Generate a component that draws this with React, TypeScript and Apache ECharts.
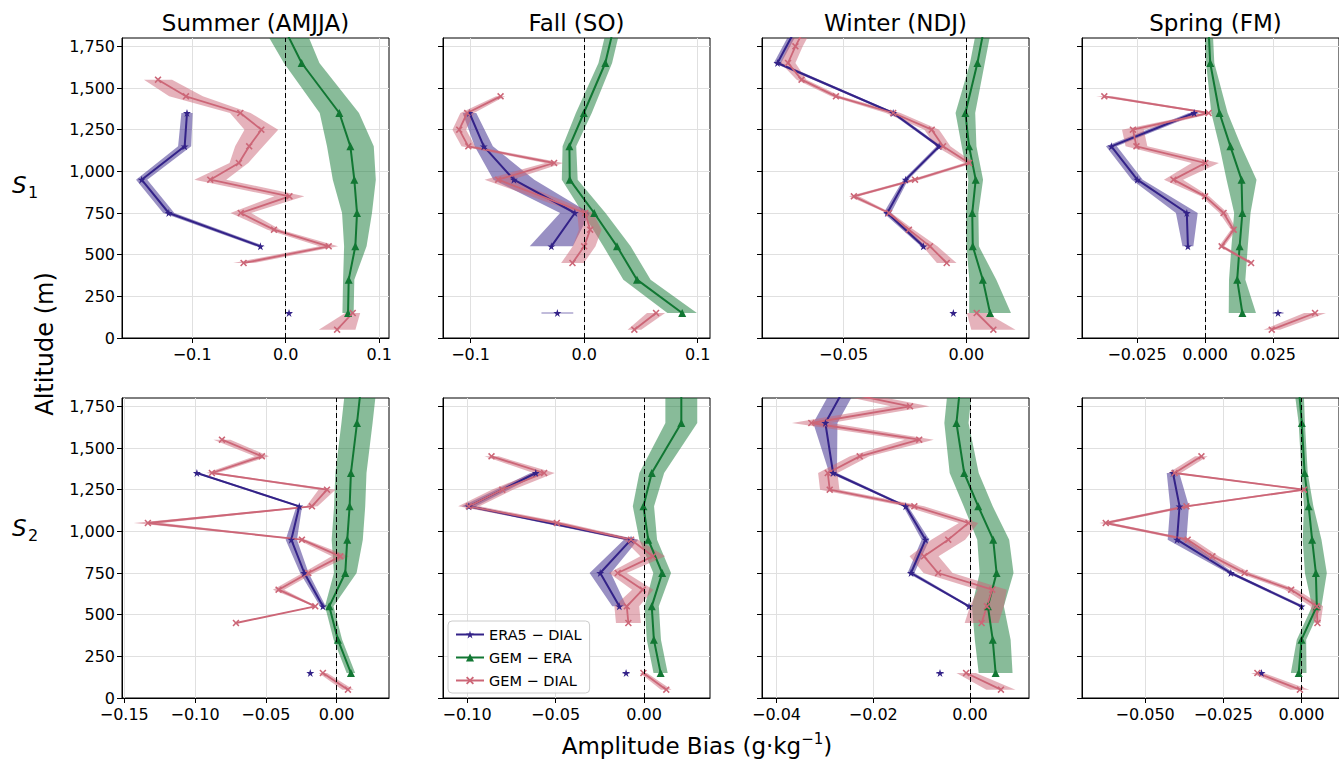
import React, { useEffect, useRef } from 'react';
import * as echarts from 'echarts';

type Row = [number, number | null, number]; // altitude (m), bias value, half-width of shaded band

const FONT = 'DejaVu Sans';
const C_ERA5 = '#332288';
const C_GEM_ERA = '#117733';
const C_GEM_DIAL = '#CC6677';
const NAMES = ['ERA5 \u2212 DIAL', 'GEM \u2212 ERA', 'GEM \u2212 DIAL'];

const ALT_TICKS = [0, 250, 500, 750, 1000, 1250, 1500, 1750];
const SEASONS = ['Summer (AMJJA)', 'Fall (SO)', 'Winter (NDJ)', 'Spring (FM)'];

// ---------- S1 ----------
const summerS1Era5: Row[] = [[150, 0.0036, 0.003], [350, null, 0], [550, -0.027, 0.005], [750, -0.125, 0.006], [950, -0.154, 0.006], [1150, -0.108, 0.007], [1350, -0.1055, 0.006]];
const summerS1GemEra: Row[] = [[150, 0.0667, 0.006], [350, 0.0674, 0.006], [550, 0.0745, 0.012], [750, 0.0763, 0.016], [950, 0.0734, 0.023], [1150, 0.0692, 0.025], [1350, 0.0574, 0.021], [1650, 0.0171, 0.019], [1850, -0.0007, 0.022]];
const summerS1GemDial: Row[] = [[50, 0.055, 0.0196], [150, 0.0717, 0.008], [250, null, 0], [450, -0.045, 0.011], [550, 0.046, 0.01], [650, -0.0125, 0.007], [750, -0.048, 0.011], [850, 0.004, 0.016], [950, -0.0806, 0.017], [1050, -0.05, 0.01], [1150, -0.039, 0.015], [1250, -0.026, 0.018], [1350, -0.0485, 0.011], [1450, -0.1066, 0.018], [1550, -0.1365, 0.015]];

const fallS1Era5: Row[] = [[150, -0.0236, 0.014], [350, null, 0], [550, -0.0289, 0.019], [750, -0.0082, 0.013], [950, -0.0619, 0.018], [1150, -0.0884, 0.008], [1350, -0.101, 0.006]];
const fallS1GemEra: Row[] = [[150, 0.0863, 0.013], [350, 0.0465, 0.012], [550, 0.0289, 0.012], [750, 0.0088, 0.01], [950, -0.0127, 0.007], [1150, -0.013, 0.006], [1350, -0.0003, 0.007], [1650, 0.0186, 0.006], [1850, 0.0256, 0.006]];
const fallS1GemDial: Row[] = [[50, 0.0442, 0.006], [150, 0.0633, 0.008], [250, null, 0], [450, -0.0103, 0.01], [550, 0, 0.01], [650, 0.0053, 0.01], [750, 0.0009, 0.007], [950, -0.0757, 0.012], [1050, -0.0265, 0.008], [1150, -0.102, 0.006], [1250, -0.11, 0.006], [1350, -0.103, 0.006], [1450, -0.0736, 0.004]];

const winterS1Era5: Row[] = [[150, -0.0053, 0.001], [350, null, 0], [550, -0.0175, 0.001], [750, -0.0322, 0.0015], [950, -0.0247, 0.001], [1150, -0.0111, 0.001], [1350, -0.0298, 0.001], [1650, -0.0769, 0.0015], [1850, -0.0696, 0.0015]];
const winterS1GemEra: Row[] = [[150, 0.00965, 0.0085], [350, 0.0067, 0.0055], [550, 0.0026, 0.0025], [750, 0.0024, 0.0025], [950, 0.0038, 0.003], [1150, 0.0011, 0.003], [1350, -0.0004, 0.004], [1650, 0.0045, 0.003], [1850, 0.0071, 0.003]];
const winterS1GemDial: Row[] = [[50, 0.011, 0.009], [150, 0.0042, 0.004], [250, null, 0], [450, -0.008, 0.004], [550, -0.0148, 0.003], [650, -0.0234, 0.002], [750, -0.0315, 0.001], [850, -0.0458, 0.002], [950, -0.0209, 0.002], [1050, 0.0011, 0.002], [1150, -0.0095, 0.003], [1250, -0.0141, 0.003], [1350, -0.0298, 0.003], [1450, -0.0531, 0.002], [1550, -0.0671, 0.002], [1650, -0.0726, 0.003], [1750, -0.0696, 0.003], [1850, -0.066, 0.003]];

const springS1Era5: Row[] = [[150, 0.0268, 0.002], [350, null, 0], [550, -0.0063, 0.002], [750, -0.0067, 0.004], [950, -0.0249, 0.002], [1150, -0.0344, 0.002], [1350, -0.004, 0.002]];
const springS1GemEra: Row[] = [[150, 0.0137, 0.005], [350, 0.0118, 0.003], [550, 0.0127, 0.003], [750, 0.0137, 0.003], [950, 0.0134, 0.0055], [1150, 0.0093, 0.004], [1350, 0.0053, 0.003], [1650, 0.0019, 0.0015], [1850, 0.0013, 0.0015]];
const springS1GemDial: Row[] = [[50, 0.0245, 0.003], [150, 0.0404, 0.004], [250, null, 0], [450, 0.0169, 0.001], [550, 0.0061, 0.001], [650, 0.0105, 0.001], [750, 0.0068, 0.0015], [850, 0, 0.0015], [950, -0.0116, 0.0035], [1050, 0.0001, 0.005], [1150, -0.0252, 0.004], [1250, -0.0265, 0.004], [1350, 0.0013, 0.002], [1450, -0.037, 0.003]];

// ---------- S2 ----------
const summerS2Era5: Row[] = [[150, -0.0186, 0.001], [350, null, 0], [550, -0.0097, 0.002], [750, -0.0228, 0.003], [950, -0.032, 0.004], [1150, -0.0264, 0.002], [1350, -0.0987, 0.002]];
const summerS2GemEra: Row[] = [[150, 0.0101, 0.003], [350, 0.0009, 0.003], [550, -0.0052, 0.003], [750, 0.0061, 0.008], [950, 0.0075, 0.011], [1150, 0.0092, 0.011], [1350, 0.0101, 0.011], [1650, 0.0144, 0.011], [1850, 0.017, 0.011]];
const summerS2GemDial: Row[] = [[50, 0.008, 0.004], [150, -0.0097, 0.003], [250, null, 0], [450, -0.0711, 0.001], [550, -0.0151, 0.001], [650, -0.041, 0.004], [750, -0.02, 0.004], [850, 0.0026, 0.006], [950, -0.0245, 0.003], [1050, -0.1333, 0.01], [1150, -0.0174, 0.004], [1250, -0.0068, 0.006], [1350, -0.0881, 0.004], [1450, -0.0528, 0.005], [1550, -0.081, 0.006]];

const fallS2Era5: Row[] = [[150, -0.0102, 0.002], [350, null, 0], [550, -0.014, 0.004], [750, -0.0248, 0.006], [950, -0.0074, 0.004], [1150, -0.099, 0.004], [1350, -0.0612, 0.003]];
const fallS2GemEra: Row[] = [[150, 0.0093, 0.004], [350, 0.0055, 0.004], [550, 0.0043, 0.004], [750, 0.0102, 0.005], [950, 0.0023, 0.005], [1150, -0.0004, 0.006], [1350, 0.0043, 0.007], [1650, 0.021, 0.009], [1850, 0.021, 0.009]];
const fallS2GemDial: Row[] = [[50, 0.0125, 0.003], [150, -0.0004, 0.002], [250, null, 0], [450, -0.0089, 0.007], [550, -0.0098, 0.007], [650, -0.0008, 0.006], [750, -0.0149, 0.005], [850, 0.0049, 0.007], [950, -0.0074, 0.004], [1050, -0.0493, 0.005], [1150, -0.099, 0.006], [1250, -0.0801, 0.006], [1350, -0.0565, 0.006], [1450, -0.0862, 0.004]];

const winterS2Era5: Row[] = [[150, -0.0062, 0.0008], [350, null, 0], [550, -0.0002, 0.0004], [750, -0.0122, 0.0007], [950, -0.0092, 0.0008], [1150, -0.0133, 0.0005], [1350, -0.0283, 0.0008], [1650, -0.0299, 0.0025], [1850, -0.0261, 0.0025]];
const winterS2GemEra: Row[] = [[150, 0.0053, 0.0035], [350, 0.0047, 0.0037], [550, 0.0037, 0.0033], [750, 0.0055, 0.0035], [950, 0.0048, 0.0033], [1150, 0.0017, 0.003], [1350, -0.0012, 0.003], [1650, -0.0028, 0.0025], [1850, -0.0021, 0.0025]];
const winterS2GemDial: Row[] = [[50, 0.0064, 0.003], [150, -0.0008, 0.002], [250, null, 0], [450, 0.0024, 0.0035], [550, 0.0035, 0.0035], [650, 0.0046, 0.003], [750, -0.0066, 0.003], [850, -0.0095, 0.003], [950, -0.0045, 0.0035], [1050, -0.0003, 0.002], [1150, -0.0115, 0.002], [1250, -0.029, 0.002], [1350, -0.0294, 0.002], [1450, -0.0228, 0.002], [1550, -0.0105, 0.003], [1650, -0.0328, 0.004], [1750, -0.0124, 0.004], [1850, -0.029, 0.003]];

const springS2Era5: Row[] = [[150, -0.0128, 0.0005], [350, null, 0], [550, 0, 0.001], [750, -0.0226, 0.001], [950, -0.0398, 0.003], [1150, -0.039, 0.003], [1350, -0.0411, 0.002]];
const springS2GemEra: Row[] = [[150, -0.0009, 0.0025], [350, 0, 0.0015], [550, 0.0049, 0.0015], [750, 0.0046, 0.0035], [950, 0.0034, 0.003], [1150, 0.0023, 0.0015], [1350, 0.001, 0.001], [1650, 0.0001, 0.001], [1850, -0.0008, 0.0015]];
const springS2GemDial: Row[] = [[50, -0.0005, 0.003], [150, -0.0141, 0.002], [250, null, 0], [450, 0.0051, 0.001], [550, 0.0049, 0.002], [650, -0.0033, 0.002], [750, -0.0182, 0.002], [850, -0.0285, 0.002], [950, -0.0364, 0.002], [1050, -0.0626, 0.002], [1150, -0.0368, 0.002], [1250, 0.0008, 0.002], [1350, -0.0406, 0.002], [1450, -0.032, 0.002]];

// x-axis ranges and tick labels per panel
const X_RANGES: [number, number][] = [
  [-0.175, 0.1105], [-0.1243, 0.1108], [-0.0832, 0.0255], [-0.0452, 0.0492],
  [-0.1516, 0.037], [-0.1136, 0.0372], [-0.043, 0.0122], [-0.0702, 0.012],
];
const X_TICKS: number[][] = [
  [-0.1, 0, 0.1], [-0.1, 0, 0.1], [-0.05, 0], [-0.025, 0, 0.025],
  [-0.15, -0.1, -0.05, 0], [-0.1, -0.05, 0], [-0.04, -0.02, 0], [-0.05, -0.025, 0],
];
const X_DECIMALS = [1, 1, 2, 3, 2, 2, 2, 3];

const PANEL_DATA: Row[][][] = [
  [summerS1Era5, summerS1GemEra, summerS1GemDial],
  [fallS1Era5, fallS1GemEra, fallS1GemDial],
  [winterS1Era5, winterS1GemEra, winterS1GemDial],
  [springS1Era5, springS1GemEra, springS1GemDial],
  [summerS2Era5, summerS2GemEra, summerS2GemDial],
  [fallS2Era5, fallS2GemEra, fallS2GemDial],
  [winterS2Era5, winterS2GemEra, winterS2GemDial],
  [springS2Era5, springS2GemEra, springS2GemDial],
];

// layout
const COL_LEFT = [122, 443, 762, 1082];
const ROW_TOP = [38, 398];
const PANEL_W = 267;
const PANEL_H = 300;

const STAR = 'path://M5,0 L6.18,3.62 L10,3.62 L6.91,5.86 L8.09,9.5 L5,7.24 L1.91,9.5 L3.09,5.86 L0,3.62 L3.82,3.62 Z';
const CROSS = 'path://M0,1.6 L1.6,0 L5,3.4 L8.4,0 L10,1.6 L6.6,5 L10,8.4 L8.4,10 L5,6.6 L1.6,10 L0,8.4 L3.4,5 Z';

function fmtX(v: number, dec: number) {
  const s = Math.abs(v).toFixed(dec);
  return v < -1e-12 ? '\u2212' + s : s;
}

function bandSeries(rows: Row[], color: string, idx: number) {
  const segs: Row[][] = [];
  let cur: Row[] = [];
  rows.forEach((r) => {
    if (r[1] === null) {
      if (cur.length) segs.push(cur);
      cur = [];
    } else cur.push(r);
  });
  if (cur.length) segs.push(cur);
  return {
    type: 'custom',
    xAxisIndex: idx,
    yAxisIndex: idx,
    clip: true,
    silent: true,
    z: 1,
    data: segs.map((s) => [s[0][1], s[0][0]]),
    renderItem: (params: any, api: any) => {
      const s = segs[params.dataIndex];
      if (s.length === 1) {
        const a = api.coord([(s[0][1] as number) - s[0][2], s[0][0]]);
        const b = api.coord([(s[0][1] as number) + s[0][2], s[0][0]]);
        return {
          type: 'line',
          shape: { x1: a[0], y1: a[1], x2: b[0], y2: b[1] },
          style: { stroke: color, lineWidth: 1.2, opacity: 0.6 },
        };
      }
      const left = s.map((r) => api.coord([(r[1] as number) - r[2], r[0]]));
      const right = s.slice().reverse().map((r) => api.coord([(r[1] as number) + r[2], r[0]]));
      return {
        type: 'polygon',
        shape: { points: left.concat(right) },
        style: { fill: color, opacity: 0.5 },
      };
    },
  };
}

function lineSeries(rows: Row[], name: string, color: string, symbol: string, size: number, width: number, idx: number, zeroLine: boolean) {
  const s: any = {
    type: 'line',
    name,
    xAxisIndex: idx,
    yAxisIndex: idx,
    data: rows.map((r) => [r[1] === null ? '-' : r[1], r[0]]),
    symbol,
    symbolSize: size,
    showSymbol: true,
    connectNulls: false,
    clip: true,
    z: 3,
    lineStyle: { color, width },
    itemStyle: { color },
    emphasis: { disabled: true },
  };
  if (zeroLine) {
    s.markLine = {
      silent: true,
      symbol: ['none', 'none'],
      label: { show: false },
      lineStyle: { color: '#000', type: [5, 3], width: 1 },
      data: [{ xAxis: 0 }],
    };
  }
  return s;
}

export default function App() {
  const ref = useRef<HTMLDivElement>(null);

  useEffect(() => {
    document.body.style.margin = '0';
    if (!ref.current) return;
    const chart = echarts.init(ref.current, undefined, { renderer: 'svg' });

    const grids: any[] = [];
    const xAxes: any[] = [];
    const yAxes: any[] = [];
    const series: any[] = [];

    for (let i = 0; i < 8; i++) {
      const row = Math.floor(i / 4);
      const col = i % 4;
      grids.push({
        left: COL_LEFT[col], top: ROW_TOP[row], width: PANEL_W, height: PANEL_H,
        show: true, borderColor: '#000', borderWidth: 1, backgroundColor: 'transparent',
        containLabel: false,
      });
      const dec = X_DECIMALS[i];
      xAxes.push({
        type: 'value', gridIndex: i, min: X_RANGES[i][0], max: X_RANGES[i][1],
        axisLine: { show: true, onZero: false, lineStyle: { color: '#000', width: 1 } },
        axisTick: { show: true, customValues: X_TICKS[i], length: 5, lineStyle: { color: '#000' } },
        axisLabel: {
          customValues: X_TICKS[i], formatter: (v: number) => fmtX(v, dec),
          fontSize: 16, lineHeight: 14, color: '#000', fontFamily: FONT, margin: 9,
        },
        splitLine: { show: true, lineStyle: { color: '#e0e0e0', width: 1 } },
      });
      yAxes.push({
        type: 'value', gridIndex: i, min: 0, max: 1800,
        axisLine: { show: true, onZero: false, lineStyle: { color: '#000', width: 1 } },
        axisTick: { show: true, customValues: ALT_TICKS, length: 5, lineStyle: { color: '#000' } },
        axisLabel: {
          show: col === 0, customValues: ALT_TICKS,
          formatter: (v: number) => v.toLocaleString('en-US'),
          fontSize: 16, lineHeight: 13, color: '#000', fontFamily: FONT, margin: 7,
        },
        splitLine: { show: true, lineStyle: { color: '#e0e0e0', width: 1 } },
      });

      const [era5, gemEra, gemDial] = PANEL_DATA[i];
      series.push(bandSeries(gemEra, C_GEM_ERA, i));
      series.push(bandSeries(era5, C_ERA5, i));
      series.push(bandSeries(gemDial, C_GEM_DIAL, i));
      series.push(lineSeries(gemEra, NAMES[1], C_GEM_ERA, 'triangle', 8, 2, i, true));
      series.push(lineSeries(era5, NAMES[0], C_ERA5, STAR, 8, 2, i, false));
      series.push(lineSeries(gemDial, NAMES[2], C_GEM_DIAL, CROSS, 7, 1.8, i, false));
    }

    const graphic: any[] = [];
    SEASONS.forEach((t, c) => {
      graphic.push({
        type: 'text', x: COL_LEFT[c] + PANEL_W / 2, y: 23,
        style: { text: t, fontSize: 23, fontFamily: FONT, fill: '#000', textAlign: 'center', textVerticalAlign: 'middle' },
      });
    });
    [185, 528].forEach((y, r) => {
      graphic.push({
        type: 'text', x: 12, y,
        style: { text: 'S', fontSize: 23, fontStyle: 'italic', fontFamily: FONT, fill: '#000', textAlign: 'left', textVerticalAlign: 'middle' },
      });
      graphic.push({
        type: 'text', x: 28, y: y + 7,
        style: { text: String(r + 1), fontSize: 16, fontFamily: FONT, fill: '#000', textAlign: 'left', textVerticalAlign: 'middle' },
      });
    });
    graphic.push({
      type: 'text', x: 45, y: 344, rotation: Math.PI / 2,
      style: { text: 'Altitude (m)', fontSize: 24, fontFamily: FONT, fill: '#000', textAlign: 'center', textVerticalAlign: 'middle' },
    });
    graphic.push({
      type: 'text', x: 697, y: 744,
      style: {
        text: '{a|Amplitude Bias (g\u00b7kg}{s|\u22121}{a|)}',
        fill: '#000', textAlign: 'center', textVerticalAlign: 'middle',
        rich: {
          a: { fontSize: 23, fontFamily: FONT, fill: '#000', lineHeight: 26, verticalAlign: 'bottom' },
          s: { fontSize: 15, fontFamily: FONT, fill: '#000', lineHeight: 17, verticalAlign: 'top' },
        },
      },
    });

    chart.setOption({
      animation: false,
      backgroundColor: '#fff',
      grid: grids,
      xAxis: xAxes,
      yAxis: yAxes,
      series,
      graphic,
      legend: {
        show: true, orient: 'vertical', left: 448, top: 621,
        data: NAMES, itemWidth: 28, itemHeight: 10, itemGap: 8,
        textStyle: { fontSize: 14.5, fontFamily: FONT, color: '#000' },
        backgroundColor: 'rgba(255,255,255,0.85)', borderColor: '#ccc', borderWidth: 1, borderRadius: 4,
        padding: [6, 8, 5, 7], selectedMode: false,
      },
    });

    return () => chart.dispose();
  }, []);

  return <div ref={ref} style={{ width: 1339, height: 759 }} />;
}
